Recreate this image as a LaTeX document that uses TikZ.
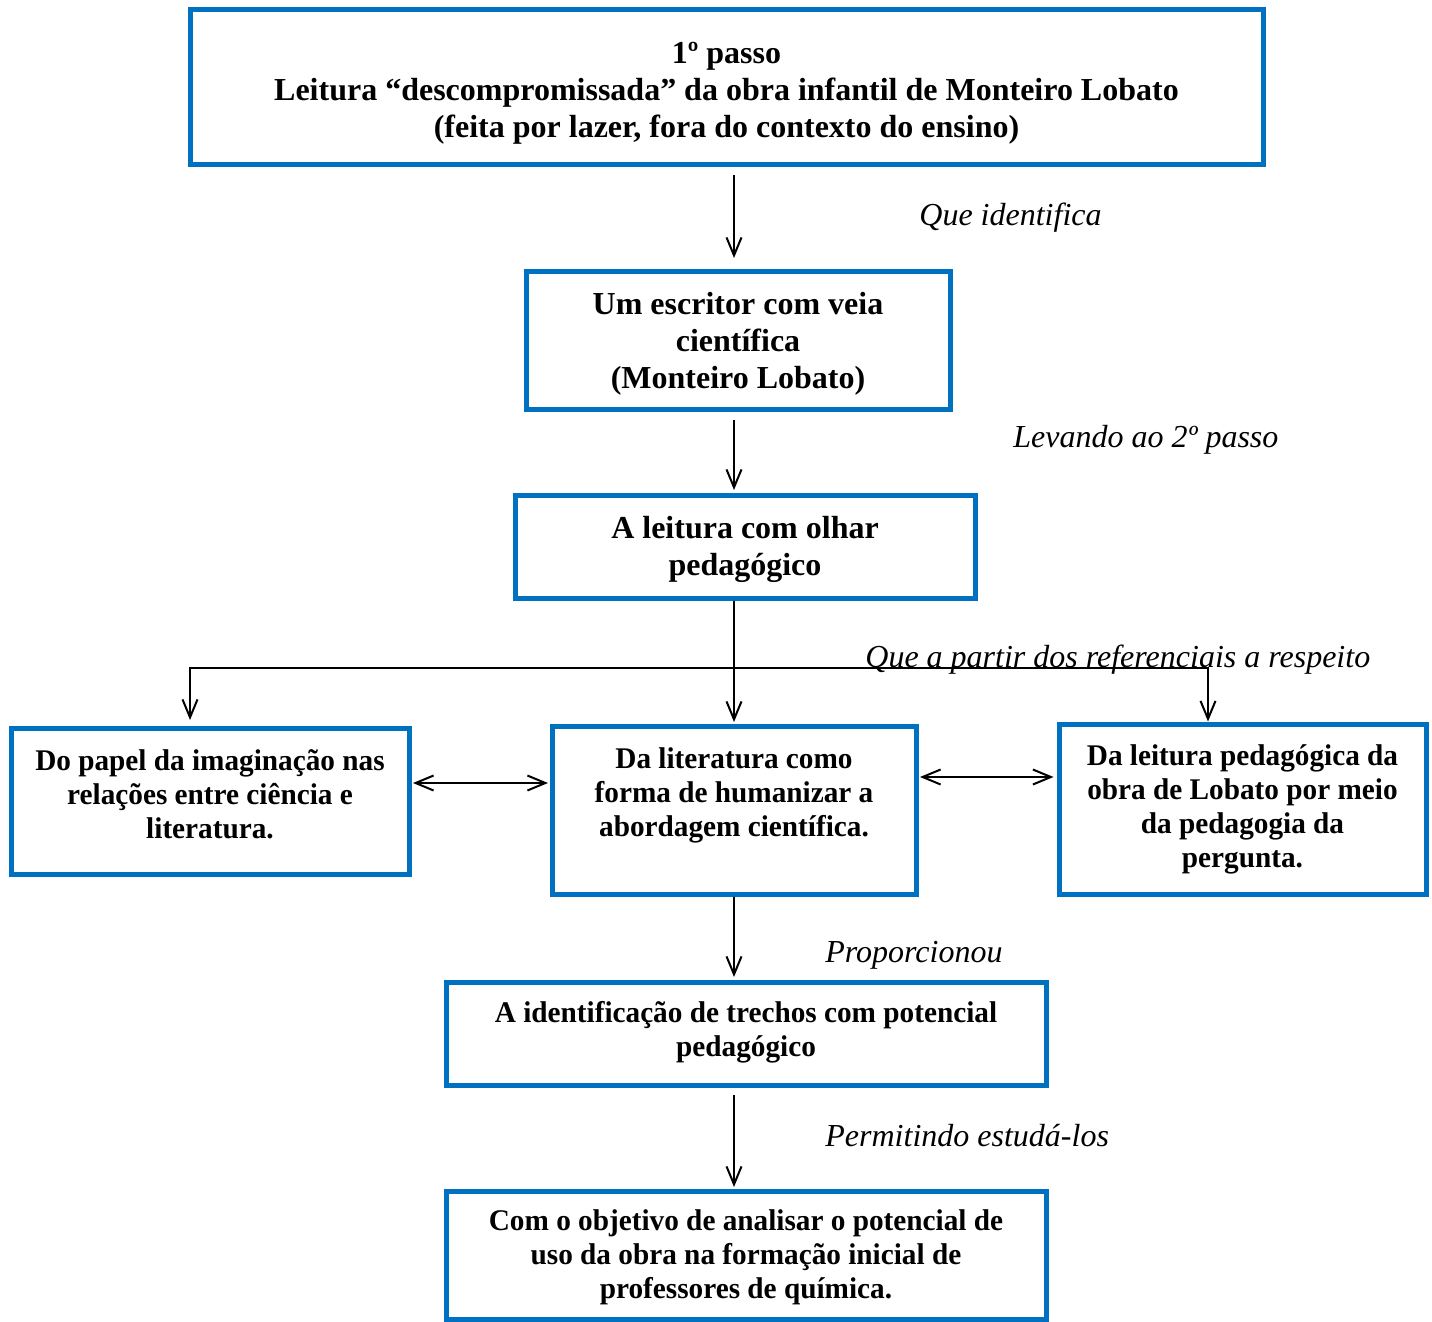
\documentclass[tikz,border=0pt]{standalone}
\usepackage{fontspec}
\setmainfont{Liberation Serif}
\newfontfamily\lowfont{Liberation Serif}[FakeStretch=0.975]
\usepackage{tikz}
\usetikzlibrary{arrows.meta,positioning}
\definecolor{boxblue}{HTML}{0070C0}
\newcommand{\topgap}[1]{\rule{0pt}{#1}}
\newcommand{\botgap}[1]{\rule[-#1]{0pt}{0pt}}

\begin{document}
\begin{tikzpicture}[x=0.5pt, y=-0.5pt,
  box/.style={draw=boxblue, line width=2.5pt, align=center, inner sep=0pt,
              font=\fontsize{16}{18.5}\selectfont\bfseries},
  lowbox/.style={box, font=\fontsize{15}{17}\selectfont\lowfont\bfseries},
  lbl/.style={anchor=base west, inner sep=0pt,
              font=\fontsize{16}{19}\selectfont\itshape},
  arr/.style={-{Straight Barb[length=9pt,width=7.5pt]}, line width=1pt},
  dbl/.style={{Straight Barb[length=9pt,width=7.5pt]}-{Straight Barb[length=9pt,width=7.5pt]},
              line width=1pt}]
  \useasboundingbox (0,0) rectangle (1432,1322);
  \node[box, minimum width=536.5pt, minimum height=77.5pt] (passo) at (726.5,87.5)
    {\topgap{16pt}1º passo\\ Leitura “descompromissada” da obra infantil de Monteiro Lobato\\ (feita por lazer, fora do contexto do ensino)};
  \node[box, minimum width=212pt, minimum height=68.5pt] (escritor) at (738,340.5)
    {\topgap{14pt}Um escritor com veia\\ científica\\ (Monteiro Lobato)};
  \node[box, minimum width=230pt, minimum height=51.5pt] (olhar) at (745,546.5)
    {\topgap{14pt}A leitura com olhar\\ pedagógico};
  \node[lowbox, minimum width=199pt, minimum height=73pt] (imag) at (210,801)
    {\topgap{12pt}Do papel da imaginação nas\\ relações entre ciência e\\ literatura.\botgap{9pt}};
  \node[lowbox, minimum width=182pt, minimum height=84pt] (humaniz) at (734,810)
    {\topgap{12pt}Da literatura como\\ forma de humanizar a\\ abordagem científica.\botgap{20pt}};
  \node[lowbox, minimum width=183.5pt, minimum height=85pt] (pergunta) at (1242.5,809)
    {\topgap{11pt}Da leitura pedagógica da\\ obra de Lobato por meio\\ da pedagogia da\\ pergunta.};
  \node[lowbox, minimum width=300pt, minimum height=51.5pt] (trechos) at (746,1033.5)
    {\topgap{13pt}A identificação de trechos com potencial\\ pedagógico\botgap{6.8pt}};
  \node[lowbox, minimum width=300pt, minimum height=64pt] (objetivo) at (746,1255)
    {\topgap{13pt}Com o objetivo de analisar o potencial de\\ uso da obra na formação inicial de\\ professores de química.};

  \node[lbl] (identifica) at (919,226) {Que identifica};
  \node[lbl] (levando) at (1013,447) {Levando ao 2º passo};
  \node[lbl] (referenciais) at (865,667) {Que a partir dos referenciais a respeito};
  \node[lbl] (proporcionou) at (825,962) {Proporcionou};
  \node[lbl] (permitindo) at (825,1146) {Permitindo estudá-los};

  \coordinate (split) at (735,668);
  \draw[arr, shorten <=4pt, shorten >=5.75pt] (passo.south -| humaniz) -- (escritor.north -| humaniz);
  \draw[arr, shorten <=4.25pt, shorten >=1.25pt] (escritor.south -| humaniz) -- (olhar.north -| humaniz);
  \draw[arr, shorten >=0.75pt] (olhar.south -| humaniz) -- (humaniz.north);
  \draw[arr, shorten >=2.75pt] (split) -| ([xshift=-10pt]imag.north);
  \draw[arr] (split) -| ([xshift=-17.25pt]pergunta.north);
  \draw[dbl, shorten <=0.75pt, shorten >=0.75pt] ([yshift=9pt]imag.east) -- ([yshift=9pt]imag.east -| humaniz.west);
  \draw[dbl, shorten <=0.75pt, shorten >=1.5pt] ([yshift=16.5pt]humaniz.east) -- ([yshift=16.5pt]humaniz.east -| pergunta.west);
  \draw[arr, shorten >=1.25pt] (humaniz.south) -- (trechos.north -| humaniz);
  \draw[arr, shorten <=3.75pt, shorten >=0.75pt] (trechos.south -| humaniz) -- (objetivo.north -| humaniz);
\end{tikzpicture}
\end{document}
